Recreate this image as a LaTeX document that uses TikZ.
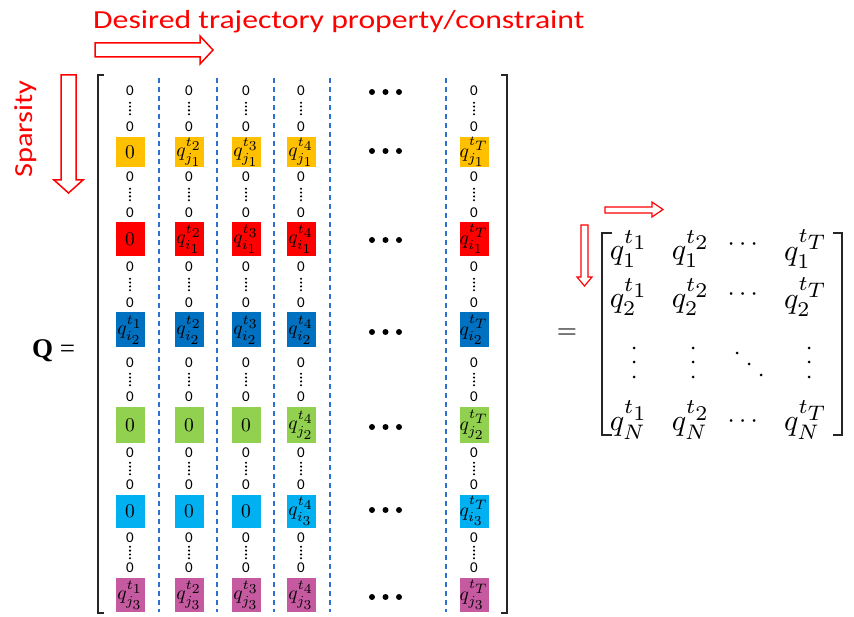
\documentclass[tikz,border=0pt]{standalone}
\usepackage{amsmath}
\usepackage{fontspec}
\newfontfamily\calib{Carlito}
\newfontfamily\tnr{Liberation Serif}
\definecolor{cyel}{HTML}{FFC000}
\definecolor{cred}{HTML}{FF0000}
\definecolor{cblu}{HTML}{0070C0}
\definecolor{cgrn}{HTML}{92D050}
\definecolor{ccyn}{HTML}{00B0F0}
\definecolor{cmag}{HTML}{C55AA0}
\definecolor{sepblue}{HTML}{2E6FD2}
% scaled math for the coloured entries and the compact matrix
\newcommand\boxmath[1]{\scalebox{1.95}{$#1$}}
\newcommand\mtxmath[1]{\scalebox{3.0}{$#1$}}
% entry q^{t_a}_{b_c} with full-size inner indices
\newcommand\qe[3]{q^{t_{\scriptstyle #1}}_{#2_{\scriptstyle #3}}}
% entry q^{t_a}_b of the compact matrix
\newcommand\qm[2]{q_{#1}^{t_{\scriptstyle #2}}}
\begin{document}
\begin{tikzpicture}[x=1pt,y=-1pt,
  zero/.style={font=\calib\fontsize{15}{15}\selectfont, inner sep=0pt},
  qbox/.style={minimum width=29pt, inner sep=0pt},
  sepline/.style={draw=sepblue, line width=1.3pt, dash pattern=on 5pt off 4pt},
  bracket/.style={draw=black!85, line width=2pt},
  hollow/.style={draw=red, fill=white, line width=1.5pt, line join=miter},
  hollowsmall/.style={draw=red, fill=white, line width=1.2pt, line join=miter},
  redlabel/.style={text=red, font=\calib\fontsize{26}{26}\selectfont, inner sep=0pt},
  mentry/.style={inner sep=0pt}]
\useasboundingbox (0,0) rectangle (854,617);

% heading and its arrow
\node[redlabel, anchor=base west] (title) at (93,29)
  {\scalebox{1.22}[1]{Desired trajectory property/constraint}};
\draw[hollow] (95,43) -- (200,43) -- (200,36) -- (213,50) -- (200,64)
  -- (200,57) -- (95,57) -- cycle;

% side label and its arrow
\node[redlabel, rotate=90, anchor=base] (sparsity) at (32,129)
  {\scalebox{1.17}[1]{Sparsity}};
\draw[hollow] (61,75) -- (76,75) -- (76,180) -- (83,180) -- (68.5,193)
  -- (54,180) -- (61,180) -- cycle;

% Q =
\node[font=\tnr\fontsize{27}{27}\selectfont, anchor=base west, inner sep=0pt]
  (qlab) at (32,358) {\textbf{Q} =};

% big brackets
\draw[bracket] (104,75) -- (98,75) -- (98,613) -- (104,613);
\draw[bracket] (501,75) -- (507,75) -- (507,613) -- (501,613);

% column separators
\foreach \x in {159,217,274,330,446}
  \draw[sepline] (\x,78) -- (\x,612);

% blocks of zeros and coloured entries
\foreach \ya/\yb/\yc/\hh/\cc/\ea/\eb/\ec/\ed/\ee [count=\ri] in {
  91/127/152/30/cyel/0/\qe{2}{j}{1}/\qe{3}{j}{1}/\qe{4}{j}{1}/\qe{T}{j}{1},
  177/213/239/34/cred/0/\qe{2}{i}{1}/\qe{3}{i}{1}/\qe{4}{i}{1}/\qe{T}{i}{1},
  267/303/330/35/cblu/\qe{1}{i}{2}/\qe{2}{i}{2}/\qe{3}{i}{2}/\qe{4}{i}{2}/\qe{T}{i}{2},
  363/397/425/35/cgrn/0/0/0/\qe{4}{j}{2}/\qe{T}{j}{2},
  453/485/511/33/ccyn/0/0/0/\qe{4}{i}{3}/\qe{T}{i}{3},
  538/568/595/34/cmag/\qe{1}{j}{3}/\qe{2}{j}{3}/\qe{3}{j}{3}/\qe{4}{j}{3}/\qe{T}{j}{3}}
{
  \foreach \x [count=\ci] in {130,189,246,301,474} {
    \node[zero] (z\ri a\ci) at (\x,\ya) {0};
    \node[zero] (z\ri b\ci) at (\x,\yb) {0};
    \foreach \k in {-5.7,-1.9,1.9,5.7}
      \fill (\x,{(\ya+\yb)/2-0.5+\k}) circle (1.15pt);
    \node[qbox, minimum height=\hh pt, fill=\cc] (e\ri c\ci) at (\x,\yc)
      {\boxmath{\ifcase\ci\or\ea\or\eb\or\ec\or\ed\or\ee\fi}};
  }
}

% horizontal ellipses between column 4 and column T
\foreach \y in {92,151,240,332,427,510,597}
  \foreach \x in {372,385.5,399}
    \fill (\x,\y) circle (3pt);

% right-hand side
\node[mentry] (eq) at (567,334) {\scalebox{2.6}{$=$}};
\draw[hollowsmall] (605,207) -- (652,207) -- (652,202) -- (663,209.5)
  -- (652,217) -- (652,213) -- (605,213) -- cycle;
\draw[hollowsmall] (581,225) -- (588,225) -- (588,277) -- (592,277)
  -- (584.5,286) -- (577,277) -- (581,277) -- cycle;

\draw[bracket] (612,233) -- (602,233) -- (602,435) -- (612,435);
\draw[bracket] (833,233) -- (842,233) -- (842,435) -- (833,435);

\node[mentry] (m11) at (629,249) {\mtxmath{\qm{1}{1}}};
\node[mentry] (m12) at (691,249) {\mtxmath{\qm{1}{2}}};
\node[mentry] (m1c) at (745,245) {\scalebox{2.6}{$\cdots$}};
\node[mentry] (m1T) at (806,249) {\mtxmath{\qm{1}{T}}};
\node[mentry] (m21) at (629,297) {\mtxmath{\qm{2}{1}}};
\node[mentry] (m22) at (691,297) {\mtxmath{\qm{2}{2}}};
\node[mentry] (m2c) at (745,295) {\scalebox{2.6}{$\cdots$}};
\node[mentry] (m2T) at (806,297) {\mtxmath{\qm{2}{T}}};
\node[mentry] (mN1) at (629,420) {\mtxmath{\qm{N}{1}}};
\node[mentry] (mN2) at (691,420) {\mtxmath{\qm{N}{2}}};
\node[mentry] (mNc) at (745,422) {\scalebox{2.6}{$\cdots$}};
\node[mentry] (mNT) at (806,420) {\mtxmath{\qm{N}{T}}};

% vertical and diagonal dots of the compact matrix
\foreach \x in {634,693,809}
  \foreach \y in {348,362,377}
    \fill (\x,\y) circle (1.5pt);
\foreach \x/\y in {737/353,749/364,761/375}
  \fill (\x,\y) circle (1.5pt);
\end{tikzpicture}
\end{document}
